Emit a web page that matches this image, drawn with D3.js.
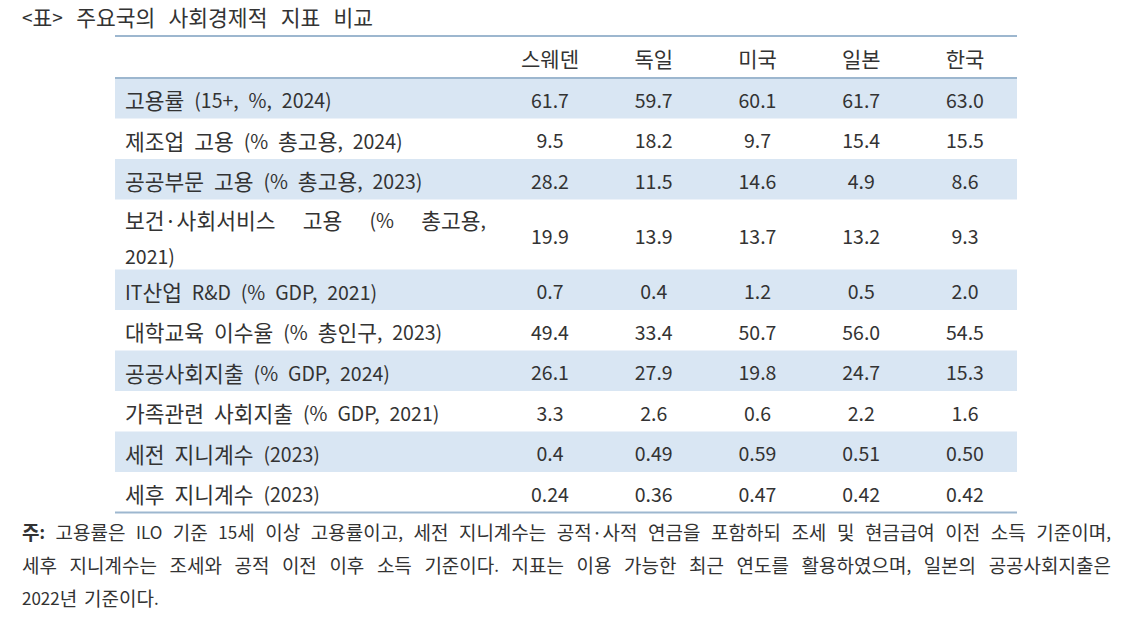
<!DOCTYPE html>
<html>
<head>
<meta charset="utf-8">
<script src="https://cdn.jsdelivr.net/npm/d3@7"></script>
<style>
  body { margin: 0; background: #fff; }
  text { font-family: "Noto Sans CJK KR", "Noto Sans", sans-serif; fill: #333; }
</style>
</head>
<body>
<svg id="table" width="1137" height="636"></svg>
<script>
(function () {
    var width = 1137, height = 636

    // column heads and row labels
    const countries = ["스웨덴", "독일", "미국", "일본", "한국"];
    const indicators = [
        "고용률 (15+, %, 2024)",
        "제조업 고용 (% 총고용, 2024)",
        "공공부문 고용 (% 총고용, 2023)",
        "보건·사회서비스 고용 (% 총고용,|2021)",
        "IT산업 R&D (% GDP, 2021)",
        "대학교육 이수율 (% 총인구, 2023)",
        "공공사회지출 (% GDP, 2024)",
        "가족관련 사회지출 (% GDP, 2021)",
        "세전 지니계수 (2023)",
        "세후 지니계수 (2023)"
    ];

    // one list per country, same order as indicators (kept as text to keep the decimals)
    const sweden = ["61.7", "9.5", "28.2", "19.9", "0.7", "49.4", "26.1", "3.3", "0.4", "0.24"];
    const germany = ["59.7", "18.2", "11.5", "13.9", "0.4", "33.4", "27.9", "2.6", "0.49", "0.36"];
    const usa = ["60.1", "9.7", "14.6", "13.7", "1.2", "50.7", "19.8", "0.6", "0.59", "0.47"];
    const japan = ["61.7", "15.4", "4.9", "13.2", "0.5", "56.0", "24.7", "2.2", "0.51", "0.42"];
    const korea = ["63.0", "15.5", "8.6", "9.3", "2.0", "54.5", "15.3", "1.6", "0.50", "0.42"];
    const valuesByCountry = [sweden, germany, usa, japan, korea];

    const title = "<표> 주요국의 사회경제적 지표 비교";
    const noteLines = [
        "주: 고용률은 ILO 기준 15세 이상 고용률이고, 세전 지니계수는 공적·사적 연금을 포함하되 조세 및 현금급여 이전 소득 기준이며,",
        "세후 지니계수는 조세와 공적 이전 이후 소득 기준이다. 지표는 이용 가능한 최근 연도를 활용하였으며, 일본의 공공사회지출은",
        "2022년 기준이다."
    ];

    const svg = d3.select("#table");

    // layout
    const left = 115, right = 1017;
    const top = 36, headH = 42, rowH = 40.5, tallH = 70;

    const x = d3.scalePoint().domain(countries).range([550, 965]);

    // row boundaries
    const rowTops = [];
    let yy = top + headH;
    indicators.forEach((d) => {
        rowTops.push(yy);
        yy += d.includes("|") ? tallH : rowH;
    });
    const bottom = yy;
    const rowMid = (i) => rowTops[i] + (indicators[i].includes("|") ? tallH : rowH) / 2 + 1;

    // hangul a bit larger than latin, like the original font
    function rich(t, str, hs, ls) {
        str.split(/([\uAC00-\uD7AF·]+)/).filter((s) => s.length).forEach((s) => {
            t.append("tspan")
                .attr("font-size", /[\uAC00-\uD7AF]/.test(s) ? hs : ls)
                .text(s);
        });
        return t;
    }

    // spread the words of a line so it fills x0..x1
    function justify(g, line, x0, x1, y, hs, ls, boldFirst) {
        const words = line.split(" ");
        const nodes = words.map((w, i) => rich(g.append("text")
            .attr("y", y)
            .attr("dominant-baseline", "central")
            .attr("font-weight", boldFirst && i === 0 ? "bold" : null), w, hs, ls));
        const widths = nodes.map((n) => n.node().getComputedTextLength());
        const gap = (x1 - x0 - d3.sum(widths)) / (words.length - 1);
        let cx = x0;
        nodes.forEach((n, i) => {
            n.attr("x", cx);
            cx += widths[i] + gap;
        });
    }

    // title
    rich(svg.append("text")
        .attr("x", 22).attr("y", 16)
        .attr("dominant-baseline", "central")
        .attr("word-spacing", 9), title, 21.5, 19);

    // shaded bands on every other row
    svg.append("g")
        .selectAll("rect")
        .data(indicators)
        .join("rect")
        .filter((d, i) => i % 2 === 0)
        .attr("x", left)
        .attr("y", (d) => rowTops[indicators.indexOf(d)])
        .attr("width", right - left)
        .attr("height", (d) => d.includes("|") ? tallH : rowH)
        .attr("fill", "#d9e6f3");

    // rules
    [top, top + headH, bottom].forEach((ly) => {
        svg.append("line")
            .attr("x1", left).attr("x2", right)
            .attr("y1", ly).attr("y2", ly)
            .attr("stroke", "#9db7cf")
            .attr("stroke-width", 2);
    });

    // header
    svg.append("g")
        .selectAll("text")
        .data(countries)
        .join("text")
        .attr("x", (d) => x(d))
        .attr("y", top + headH / 2 + 1)
        .attr("text-anchor", "middle")
        .attr("dominant-baseline", "central")
        .attr("font-size", 21)
        .text((d) => d);

    // row labels
    const labels = svg.append("g");
    indicators.forEach((d, i) => {
        const cy = rowMid(i);
        if (d.includes("|")) {
            const parts = d.split("|");
            justify(labels, parts[0], 125, 486, cy - 17, 21.5, 19.5, false);
            rich(labels.append("text")
                .attr("x", 125).attr("y", cy + 19)
                .attr("dominant-baseline", "central"), parts[1], 21.5, 19.5);
        } else {
            rich(labels.append("text")
                .attr("x", 125).attr("y", cy)
                .attr("dominant-baseline", "central")
                .attr("word-spacing", 5.5), d, 21.5, 19.5);
        }
    });

    // values
    valuesByCountry.forEach((vals, c) => {
        svg.append("g")
            .selectAll("text")
            .data(vals)
            .join("text")
            .attr("x", x(countries[c]))
            .attr("y", (v, i) => rowMid(i))
            .attr("text-anchor", "middle")
            .attr("dominant-baseline", "central")
            .attr("font-size", 19.5)
            .text((v) => v);
    });

    // footnote
    const note = svg.append("g");
    justify(note, noteLines[0], 22, 1111, 531, 19, 17, true);
    justify(note, noteLines[1], 22, 1111, 564, 19, 17, false);
    rich(note.append("text")
        .attr("x", 22).attr("y", 597)
        .attr("dominant-baseline", "central")
        .attr("word-spacing", 3), noteLines[2], 19, 17);
})();
</script>
</body>
</html>
